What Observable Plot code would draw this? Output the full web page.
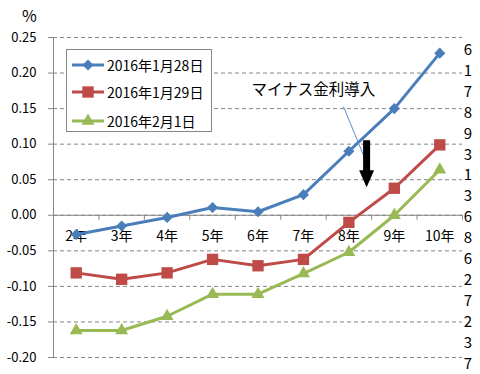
<!DOCTYPE html>
<html>
<head>
<meta charset="utf-8">
<script src="https://cdn.jsdelivr.net/npm/d3@7"></script>
<script src="https://cdn.jsdelivr.net/npm/@observablehq/plot@0.6"></script>
<style>
  html, body { margin: 0; padding: 0; background: #fff; }
  #wrap { position: relative; width: 480px; height: 374px; font-family: "Noto Sans CJK JP", sans-serif; color: #000; overflow: hidden; }
  #wrap > svg { position: absolute; left: 0; top: 0; }
  .unit { position: absolute; left: 22px; top: 3px; font-size: 16px; }
  .legend { position: absolute; left: 66px; top: 49px; width: 146px; height: 83px; border: 1px solid #868686; background: #fff; box-sizing: border-box; }
  .legend .row { position: absolute; left: 5px; height: 20px; display: flex; align-items: center; font-size: 14px; white-space: nowrap; }
  #wrap .legend .row svg { position: static; margin-right: 3px; flex: none; }
  .side { position: absolute; left: 461px; top: 39px; width: 14px; text-align: center; font-size: 15px; line-height: 20.9px; }
</style>
</head>
<body>
<div id="wrap"></div>
<script>
const categories = ["2年", "3年", "4年", "5年", "6年", "7年", "8年", "9年", "10年"];
const seriesNames = ["2016年1月28日", "2016年1月29日", "2016年2月1日"];
const jan28 = [-0.027, -0.015, -0.003, 0.011, 0.005, 0.029, 0.090, 0.150, 0.228];
const jan29 = [-0.081, -0.090, -0.081, -0.062, -0.071, -0.062, -0.010, 0.038, 0.099];
const feb1  = [-0.162, -0.162, -0.142, -0.111, -0.111, -0.082, -0.052, 0.000, 0.064];
const yTicks = [-0.20, -0.15, -0.10, -0.05, 0.00, 0.05, 0.10, 0.15, 0.20, 0.25];
const sideDigits = ["6", "1", "7", "8", "9", "3", "1", "3", "6", "8", "6", "2", "7", "2", "3", "7"];
const annotationText = "マイナス金利導入";
const colors = ["#4a7ebb", "#be4b48", "#98b954"];
const symbols = ["diamond2", "square", "triangle"];
const radii = [5, 6.4, 4.8];

const seriesValues = [jan28, jan29, feb1];
const rows = seriesNames.flatMap((s, si) => seriesValues[si].map((v, i) => ({series: s, si, i, v})));
const boundaries = categories.map((c, i) => i + 0.5);

const arrowShape = {
  draw(ctx, l) {
    const w = 3.5, hw = 7.5, hh = 17;
    ctx.moveTo(-w, 0);
    ctx.lineTo(-w, -(l - hh));
    ctx.lineTo(-hw, -(l - hh));
    ctx.lineTo(0, -l);
    ctx.lineTo(hw, -(l - hh));
    ctx.lineTo(w, -(l - hh));
    ctx.lineTo(w, 0);
    ctx.closePath();
  }
};

const font = "'Noto Sans CJK JP', sans-serif";
const grey = "#868686";

const chart = Plot.plot({
  width: 480,
  height: 374,
  marginLeft: 53,
  marginRight: 18,
  marginTop: 37,
  marginBottom: 17,
  style: {fontFamily: font, background: "transparent", overflow: "visible"},
  x: {type: "linear", domain: [-0.5, 8.5], axis: null},
  y: {domain: [-0.2, 0.25], axis: null},
  color: {domain: seriesNames, range: colors},
  marks: [
    Plot.gridY(yTicks, {stroke: grey, strokeOpacity: 1, strokeDasharray: "4,3"}),
    Plot.ruleY(yTicks, {x1: -0.61, x2: -0.5, stroke: grey}),
    Plot.text(yTicks, {x: -0.5, y: d => d, text: d => d.toFixed(2), textAnchor: "end", dx: -17, fontSize: 13, fill: "#000"}),
    Plot.text(categories, {x: (d, i) => i, y: 0, dy: 21, text: d => d, fontSize: 14, fill: "#000"}),
    Plot.ruleX([-0.5], {stroke: grey}),
    Plot.ruleY([0], {stroke: grey}),
    Plot.ruleX(boundaries, {y1: 0, y2: -0.007, stroke: grey}),
    Plot.line(rows, {x: "i", y: "v", z: "series", stroke: "series", strokeWidth: 3}),
    ...seriesNames.map((s, si) =>
      Plot.dot(rows.filter(d => d.si === si), {x: "i", y: "v", symbol: () => symbols[si], r: radii[si], fill: colors[si], stroke: "none"})
    ),
    Plot.link([annotationText], {x1: 5.88, y1: 0.153, x2: 6.37, y2: 0.077, stroke: "#5b8cd0", strokeWidth: 1}),
    Plot.vector([annotationText], {x: 6.39, y: 0.1055, length: 47, rotate: 180, anchor: "start", shape: arrowShape, fill: "#000", stroke: "none"}),
    Plot.text([annotationText], {x: 5.22, y: 0.1758, text: d => d, fontSize: 15.5, fill: "#000"})
  ]
});

const wrap = document.getElementById("wrap");
wrap.appendChild(chart);

const unit = document.createElement("div");
unit.className = "unit";
unit.textContent = "%";
wrap.appendChild(unit);

const legend = document.createElement("div");
legend.className = "legend";
const rowTops = [4.5, 32, 60.5];
seriesNames.forEach((s, si) => {
  const row = document.createElement("div");
  row.className = "row";
  row.style.top = rowTops[si] + "px";
  const ns = "http://www.w3.org/2000/svg";
  const sw = document.createElementNS(ns, "svg");
  sw.setAttribute("width", 32);
  sw.setAttribute("height", 16);
  const line = document.createElementNS(ns, "line");
  line.setAttribute("x1", 0); line.setAttribute("x2", 32);
  line.setAttribute("y1", 8); line.setAttribute("y2", 8);
  line.setAttribute("stroke", colors[si]); line.setAttribute("stroke-width", 3);
  sw.appendChild(line);
  const sym = {diamond2: d3.symbolDiamond2, square: d3.symbolSquare, triangle: d3.symbolTriangle}[symbols[si]];
  const path = document.createElementNS(ns, "path");
  path.setAttribute("d", d3.symbol(sym, radii[si] * radii[si] * Math.PI)());
  path.setAttribute("transform", "translate(16,8)");
  path.setAttribute("fill", colors[si]);
  sw.appendChild(path);
  row.appendChild(sw);
  const label = document.createElement("span");
  label.textContent = s;
  row.appendChild(label);
  legend.appendChild(row);
});
wrap.appendChild(legend);

const side = document.createElement("div");
side.className = "side";
side.innerHTML = sideDigits.map(d => `<div>${d}</div>`).join("");
wrap.appendChild(side);
</script>
</body>
</html>
